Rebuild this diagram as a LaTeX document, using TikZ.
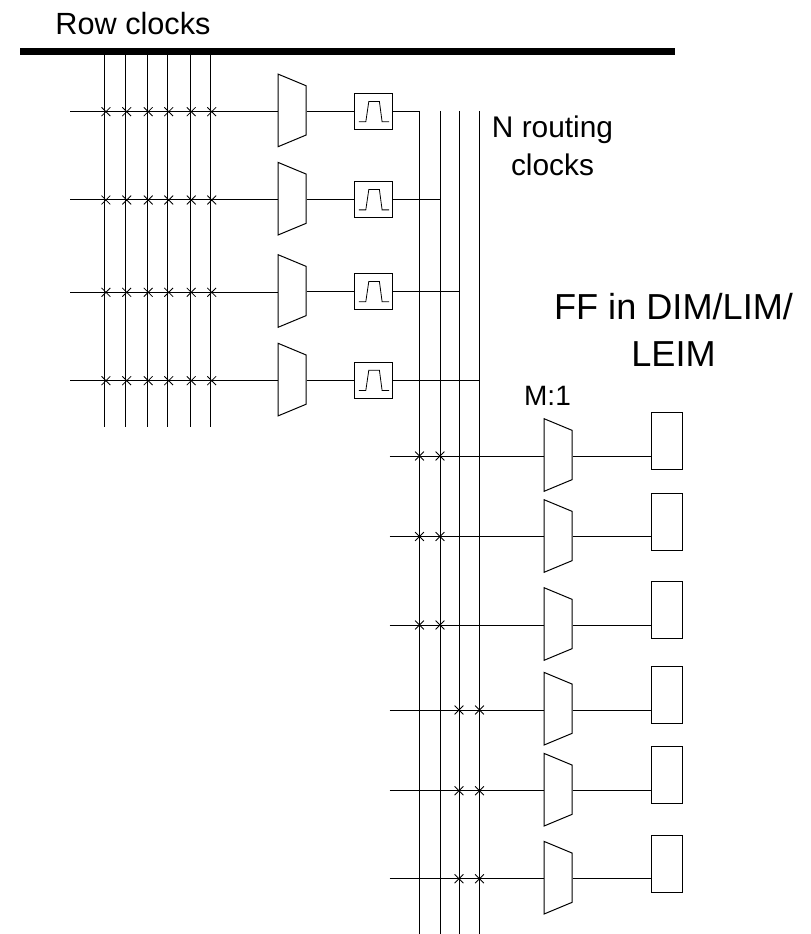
\documentclass[tikz,border=0pt]{standalone}
\usepackage{fontspec}
\setmainfont{Liberation Sans}
\usetikzlibrary{shapes.geometric,shapes.misc}
\tikzset{
  wire/.style={line width=0.75pt},
  xpt/.style={draw,cross out,line width=0.6pt,inner sep=0pt,minimum size=6pt},
  xptr/.style={xpt,xshift=0.9pt},
  mux/.style={draw,line width=0.75pt,trapezium,shape border rotate=270,trapezium angle=76,
    trapezium stretches=true,inner sep=0pt,minimum width=54.5pt,minimum height=21pt,
    font=\tiny,execute at begin node=\phantom{x}},
  ffbox/.style={draw,line width=0.75pt,rectangle,inner sep=0pt,minimum width=23.25pt,minimum height=42.75pt},
  filt/.style={draw,line width=0.75pt,rectangle,inner sep=0pt,minimum width=28.5pt,minimum height=27pt,
    path picture={\draw[line width=0.6pt] ([shift={(-14.6,10)}]path picture bounding box.center)
      -- ++(7,0) -- ++(3,-20.3) -- ++(10.6,0) -- ++(2.7,20.3) -- ++(7,0);}},
  lbl/.style={inner sep=0pt,align=center}
}
\begin{document}
\begin{tikzpicture}[x=0.75pt,y=-0.75pt]
\useasboundingbox (0,0) rectangle (810,934);

\coordinate (barL) at (20,51.5);
\coordinate (barR) at (675,51.5);
\draw[line width=5.25pt] (barL)--(barR);

% row clock lines
\coordinate (c1) at (104.7,52);
\coordinate (c2) at (125.5,52);
\coordinate (c3) at (147,52);
\coordinate (c4) at (167.5,52);
\coordinate (c5) at (190,52);
\coordinate (c6) at (210.5,52);
\coordinate (cb) at (0,427);
\draw[wire] (c1)--(c1|-cb);
\draw[wire] (c2)--(c2|-cb);
\draw[wire] (c3)--(c3|-cb);
\draw[wire] (c4)--(c4|-cb);
\draw[wire] (c5)--(c5|-cb);
\draw[wire] (c6)--(c6|-cb);

% routing clock lines
\coordinate (b1) at (419.5,111);
\coordinate (b2) at (440,111);
\coordinate (b3) at (459,111);
\coordinate (b4) at (479.5,111);
\coordinate (bb) at (0,934);
\draw[wire] (b1)--(b1|-bb);
\draw[wire] (b2)--(b2|-bb);
\draw[wire] (b3)--(b3|-bb);
\draw[wire] (b4)--(b4|-bb);

% upper muxes and filters
\node[mux] (m1) at (292,110.4) {};
\node[mux] (m2) at (292,198.7) {};
\node[mux] (m3) at (292,291) {};
\node[mux] (m4) at (292,379.6) {};
\node[filt] (f1) at (373.4,111.8) {};
\node[filt] (f2) at (373.4,199.9) {};
\node[filt] (f3) at (373.4,291.7) {};
\node[filt] (f4) at (373.4,380.5) {};

\coordinate (r1) at (70,111.7);
\coordinate (r2) at (70,200);
\coordinate (r3) at (70,292.3);
\coordinate (r4) at (70,380.7);
\draw[wire] (r1)--(r1-|m1.west);
\draw[wire] (r2)--(r2-|m2.west);
\draw[wire] (r3)--(r3-|m3.west);
\draw[wire] (r4)--(r4-|m4.west);

\draw[wire] (m1.east|-f1.west)--(f1.west);
\draw[wire] (m2.east|-f2.west)--(f2.west);
\draw[wire] (m3.east|-f3.west)--(f3.west);
\draw[wire] (m4.east|-f4.west)--(f4.west);
\draw[wire] (f1.east)--(f1.east-|b1);
\draw[wire] (f2.east)--(f2.east-|b2);
\draw[wire] (f3.east)--(f3.east-|b3);
\draw[wire] (f4.east)--(f4.east-|b4);

\node[xptr] (x11) at (c1|-r1) {}; \node[xptr] (x12) at (c2|-r1) {}; \node[xptr] (x13) at (c3|-r1) {};
\node[xptr] (x14) at (c4|-r1) {}; \node[xptr] (x15) at (c5|-r1) {}; \node[xptr] (x16) at (c6|-r1) {};
\node[xptr] (x21) at (c1|-r2) {}; \node[xptr] (x22) at (c2|-r2) {}; \node[xptr] (x23) at (c3|-r2) {};
\node[xptr] (x24) at (c4|-r2) {}; \node[xptr] (x25) at (c5|-r2) {}; \node[xptr] (x26) at (c6|-r2) {};
\node[xptr] (x31) at (c1|-r3) {}; \node[xptr] (x32) at (c2|-r3) {}; \node[xptr] (x33) at (c3|-r3) {};
\node[xptr] (x34) at (c4|-r3) {}; \node[xptr] (x35) at (c5|-r3) {}; \node[xptr] (x36) at (c6|-r3) {};
\node[xptr] (x41) at (c1|-r4) {}; \node[xptr] (x42) at (c2|-r4) {}; \node[xptr] (x43) at (c3|-r4) {};
\node[xptr] (x44) at (c4|-r4) {}; \node[xptr] (x45) at (c5|-r4) {}; \node[xptr] (x46) at (c6|-r4) {};

% lower muxes and FF boxes
\node[mux] (m5) at (558,455) {};
\node[mux] (m6) at (558,536) {};
\node[mux] (m7) at (558,624) {};
\node[mux] (m8) at (558,708.7) {};
\node[mux] (m9) at (558,789.7) {};
\node[mux] (m10) at (558,877.7) {};
\node[ffbox] (ff1) at (666.8,440.7) {};
\node[ffbox] (ff2) at (666.8,521.5) {};
\node[ffbox] (ff3) at (666.8,609.5) {};
\node[ffbox] (ff4) at (666.8,694.5) {};
\node[ffbox] (ff5) at (666.8,775) {};
\node[ffbox] (ff6) at (666.8,863.5) {};

\coordinate (s1) at (389.5,456);
\coordinate (s2) at (389.5,536.5);
\coordinate (s3) at (389.5,625);
\coordinate (s4) at (389.5,710);
\coordinate (s5) at (389.5,790.7);
\coordinate (s6) at (389.5,878.7);
\draw[wire] (s1)--(s1-|m5.west) (s1-|m5.east)--(s1-|ff1.west);
\draw[wire] (s2)--(s2-|m6.west) (s2-|m6.east)--(s2-|ff2.west);
\draw[wire] (s3)--(s3-|m7.west) (s3-|m7.east)--(s3-|ff3.west);
\draw[wire] (s4)--(s4-|m8.west) (s4-|m8.east)--(s4-|ff4.west);
\draw[wire] (s5)--(s5-|m9.west) (s5-|m9.east)--(s5-|ff5.west);
\draw[wire] (s6)--(s6-|m10.west) (s6-|m10.east)--(s6-|ff6.west);

\node[xpt] (y11) at (b1|-s1) {}; \node[xpt] (y12) at (b2|-s1) {};
\node[xpt] (y21) at (b1|-s2) {}; \node[xpt] (y22) at (b2|-s2) {};
\node[xpt] (y31) at (b1|-s3) {}; \node[xpt] (y32) at (b2|-s3) {};
\node[xpt] (y43) at (b3|-s4) {}; \node[xpt] (y44) at (b4|-s4) {};
\node[xpt] (y53) at (b3|-s5) {}; \node[xpt] (y54) at (b4|-s5) {};
\node[xpt] (y63) at (b3|-s6) {}; \node[xpt] (y64) at (b4|-s6) {};

% labels
\node[lbl,font=\fontsize{23}{28}\selectfont] (rowclk) at (133,24) {Row clocks};
\node[lbl,font=\fontsize{22.4}{28.75}\selectfont] (nrout) at (552.5,146) {N routing\\clocks};
\node[lbl,font=\fontsize{27.1}{35.6}\selectfont] (ffin) at (673.5,330) {FF in DIM/LIM/\\LEIM};
\node[lbl,font=\fontsize{21}{25}\selectfont] (mone) at (547.5,395.5) {M:1};
\end{tikzpicture}
\end{document}
